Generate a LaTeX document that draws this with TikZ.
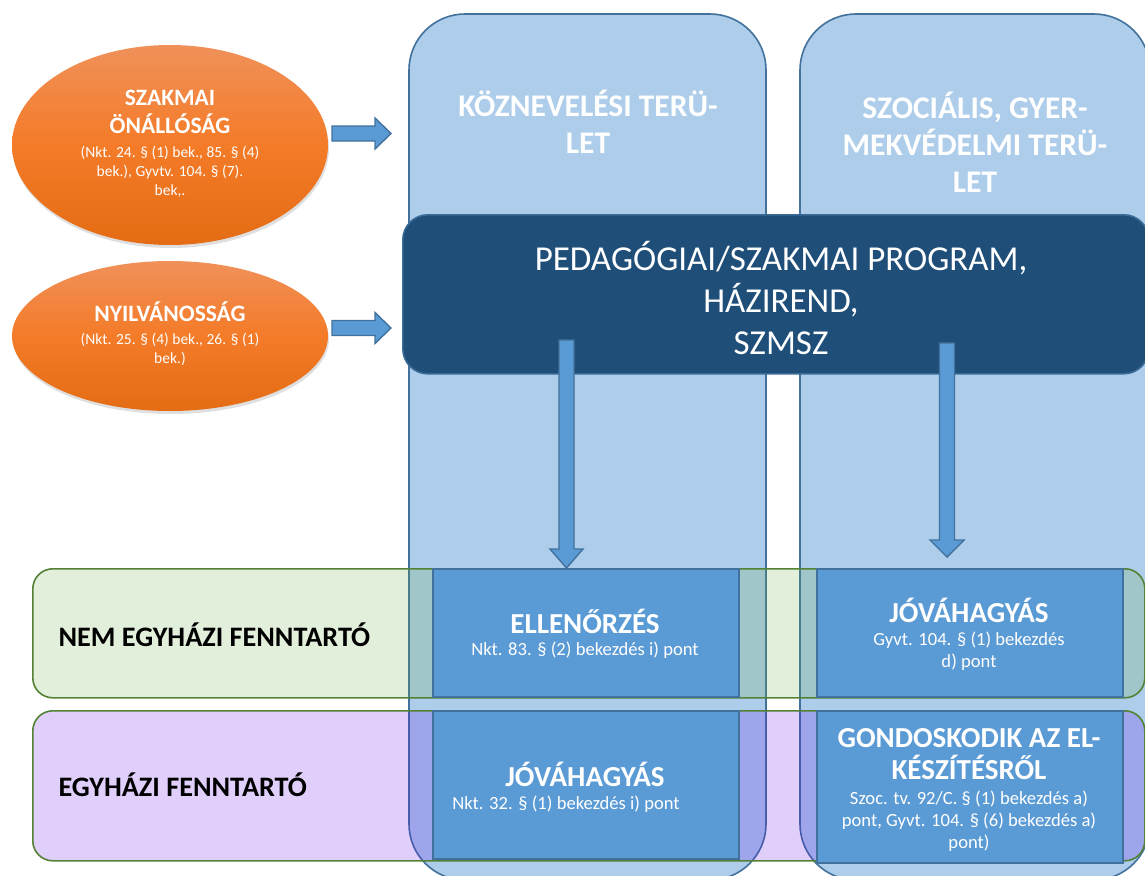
\documentclass[tikz,border=0pt]{standalone}
\usepackage{fontspec}
\setmainfont{Carlito}
\usetikzlibrary{shapes.geometric,shadows}
\definecolor{colfill}{HTML}{5B9BD5}
\definecolor{colline}{HTML}{41719C}
\definecolor{darkbox}{HTML}{1F4E79}
\definecolor{darkline}{HTML}{3A6A96}
\definecolor{grfill}{HTML}{70AD47}
\definecolor{grline}{HTML}{548235}
\definecolor{pufill}{HTML}{6409EC}
\definecolor{ortop}{HTML}{F0915A}
\definecolor{ormid}{HTML}{F47B28}
\definecolor{orbot}{HTML}{E46C14}
\tikzset{
  column/.style={rectangle, rounded corners=56pt, fill=colfill!50, draw=colline, line width=1.6pt, anchor=north west, inner sep=0pt, outer sep=0pt},
  bandgreen/.style={rectangle, rounded corners=20pt, fill=grfill, fill opacity=0.2, draw=grline, draw opacity=1, line width=1.6pt, anchor=north west, inner sep=0pt},
  bandpurple/.style={bandgreen, fill=pufill},
  darkrect/.style={rectangle, rounded corners=25pt, fill=darkbox, draw=darkline, line width=1.6pt, anchor=north west, inner sep=0pt},
  innerbox/.style={rectangle, fill=colfill, draw=colline, line width=2pt, anchor=north west, inner sep=0pt},
  blockarrow/.style={fill=colfill, draw=colline, line width=1.4pt, line join=miter},
  oval/.style={ellipse, inner sep=0pt, draw=none, top color=ortop, bottom color=orbot, middle color=ormid,
    drop shadow={shadow xshift=1pt, shadow yshift=-3pt, opacity=0.25}},
  ovaltitle/.style={text=white, align=center, font=\fontsize{23.5}{28}\selectfont\bfseries},
  ovalsub/.style={text=white, align=center, font=\fontsize{15.5}{19}\selectfont},
  coltitle/.style={text=white, align=center, font=\fontsize{31.5}{37}\selectfont\bfseries},
  darktext/.style={text=white, align=center, font=\fontsize{35}{42}\selectfont},
  boxtitle/.style={text=white, align=center, font=\fontsize{29}{32}\selectfont\bfseries},
  boxsub/.style={text=white, align=center, font=\fontsize{18.6}{22}\selectfont},
  bandlabel/.style={text=black, anchor=west, font=\fontsize{28.2}{32}\selectfont\bfseries},
}
\begin{document}
\begin{tikzpicture}[x=1pt, y=-1pt]
\useasboundingbox (0,0) rectangle (1145,875);
\clip (0,0) rectangle (1145,875);
% columns
\node[column, minimum width=357pt, minimum height=866pt] (col1) at (409,14) {};
\node[column, minimum width=350pt, minimum height=866pt] (col2) at (800,14) {};
% bands
\node[bandgreen, minimum width=1112pt, minimum height=129pt] (band1) at (32,568) {};
\node[bandpurple, minimum width=1112pt, minimum height=150pt] (band2) at (32,710) {};
% dark box
\node[darkrect, minimum width=746pt, minimum height=159pt] (prog) at (402,214) {};
% inner boxes
\node[innerbox, minimum width=306pt, minimum height=128pt] (b11) at (432,568) {};
\node[innerbox, minimum width=306pt, minimum height=128pt] (b12) at (816,568) {};
\node[innerbox, minimum width=306pt, minimum height=148pt] (b21) at (432,710) {};
\node[innerbox, minimum width=306pt, minimum height=152pt] (b22) at (816,710) {};
% down arrows
\coordinate (d1top) at (566.5,340);
\coordinate (d1tip) at (b11.north -| d1top);
\draw[blockarrow] ([xshift=-7.5pt]d1top) -- ++(0,209) -- (550,549) -- (d1tip) -- (583,549) -- (574,549) -- ([xshift=7.5pt]d1top) -- cycle;
\coordinate (d2top) at (947,343);
\coordinate (d2tip) at (947,557);
\draw[blockarrow] ([xshift=-7.5pt]d2top) -- ++(0,197) -- (930,540) -- (d2tip) -- (964,540) -- (954.5,540) -- ([xshift=7.5pt]d2top) -- cycle;
% ellipses
\node[oval, minimum width=316pt, minimum height=200pt] (ell1) at (170,145) {};
\node[oval, minimum width=316pt, minimum height=150pt] (ell2) at (170,336) {};
% right arrows
\draw[blockarrow] (332,126) -- (375,126) -- (375,118) -- (391,133.5) -- (375,149) -- (375,141) -- (332,141) -- cycle;
\draw[blockarrow] (332,320.5) -- (375,320.5) -- (375,312.5) -- (391,328) -- (375,343.5) -- (375,335.5) -- (332,335.5) -- cycle;
% texts
\node[ovaltitle] (e1t) at (170,112) {SZAKMAI\\ÖNÁLLÓSÁG};
\node[ovalsub] (e1s) at (170,172) {(Nkt. 24. § (1) bek., 85. § (4)\\bek.), Gyvtv. 104. § (7).\\bek,.};
\node[ovaltitle] (e2t) at (170,312) {NYILVÁNOSSÁG};
\node[ovalsub] (e2s) at (170,349) {(Nkt. 25. § (4) bek., 26. § (1)\\bek.)};
\node[coltitle] (c1t) at (588,122) {KÖZNEVELÉSI TERÜ-\\LET};
\node[coltitle] (c2t) at (975,142) {SZOCIÁLIS, GYER-\\MEKVÉDELMI TERÜ-\\LET};
\node[darktext] (pt) at (781,298) {PEDAGÓGIAI/SZAKMAI PROGRAM,\\HÁZIREND,\\SZMSZ};
\node[boxtitle] (b11t) at (585,621) {ELLENŐRZÉS};
\node[boxsub] (b11s) at (585,650) {Nkt. 83. § (2) bekezdés i) pont};
\node[boxtitle] (b12t) at (969,610) {JÓVÁHAGYÁS};
\node[boxsub] (b12s) at (969,651) {Gyvt. 104. § (1) bekezdés\\d) pont};
\node[boxtitle] (b21t) at (585,774) {JÓVÁHAGYÁS};
\node[boxsub] (b21s) at (566,804) {Nkt. 32. § (1) bekezdés i) pont};
\node[boxtitle] (b22t) at (969,754) {GONDOSKODIK AZ EL-\\KÉSZÍTÉSRŐL};
\node[boxsub] (b22s) at (969,821) {Szoc. tv. 92/C. § (1) bekezdés a)\\pont, Gyvt. 104. § (6) bekezdés a)\\pont)};
\node[bandlabel] (l1) at (55,635) {NEM EGYHÁZI FENNTARTÓ};
\node[bandlabel] (l2) at (55,785) {EGYHÁZI FENNTARTÓ};
\end{tikzpicture}
\end{document}
